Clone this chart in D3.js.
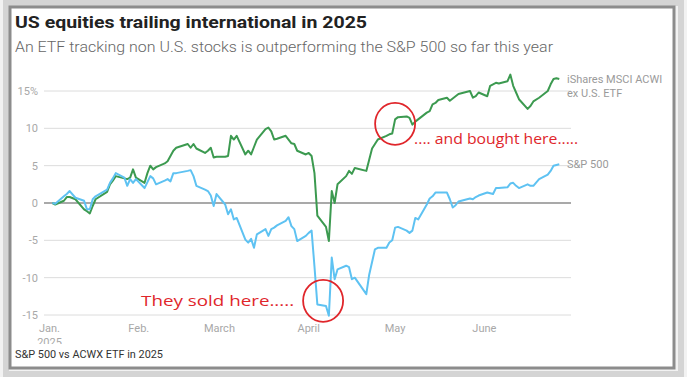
<!DOCTYPE html>
<html>
<head>
<meta charset="utf-8">
<script src="https://cdn.jsdelivr.net/npm/d3@7"></script>
<style>
  html, body { margin: 0; padding: 0; background: #fff; }
  svg { display: block; }
</style>
</head>
<body>
<div id="chart"></div>
<script>
// trading days, Jan 2 - Jun 27 2025
var dates = [
  "2025-01-02","2025-01-03","2025-01-06","2025-01-07","2025-01-08","2025-01-10","2025-01-13","2025-01-14","2025-01-15","2025-01-16","2025-01-17",
  "2025-01-21","2025-01-22","2025-01-23","2025-01-24","2025-01-27","2025-01-28","2025-01-29","2025-01-30","2025-01-31",
  "2025-02-03","2025-02-04","2025-02-05","2025-02-06","2025-02-07","2025-02-10","2025-02-11","2025-02-12","2025-02-13","2025-02-14",
  "2025-02-18","2025-02-19","2025-02-20","2025-02-21","2025-02-24","2025-02-25","2025-02-26","2025-02-27","2025-02-28",
  "2025-03-03","2025-03-04","2025-03-05","2025-03-06","2025-03-07","2025-03-10","2025-03-11","2025-03-12","2025-03-13","2025-03-14",
  "2025-03-17","2025-03-18","2025-03-19","2025-03-20","2025-03-21","2025-03-24","2025-03-25","2025-03-26","2025-03-27","2025-03-28","2025-03-31",
  "2025-04-01","2025-04-02","2025-04-03","2025-04-04","2025-04-07","2025-04-08","2025-04-09","2025-04-10","2025-04-11",
  "2025-04-14","2025-04-15","2025-04-16","2025-04-17","2025-04-21","2025-04-22","2025-04-23","2025-04-24","2025-04-25",
  "2025-04-28","2025-04-29","2025-04-30","2025-05-01","2025-05-02","2025-05-05","2025-05-06","2025-05-07","2025-05-08","2025-05-09",
  "2025-05-12","2025-05-13","2025-05-14","2025-05-15","2025-05-16","2025-05-19","2025-05-20","2025-05-21","2025-05-22","2025-05-23",
  "2025-05-27","2025-05-28","2025-05-29","2025-05-30","2025-06-02","2025-06-03","2025-06-04","2025-06-05","2025-06-06",
  "2025-06-09","2025-06-10","2025-06-11","2025-06-12","2025-06-13","2025-06-16","2025-06-17","2025-06-18","2025-06-20",
  "2025-06-23","2025-06-24","2025-06-25","2025-06-26","2025-06-27"
];

// iShares MSCI ACWI ex U.S. ETF, % change YTD
var acwx = [
  0, -0.2, 0.3, 0.8, 0.8, 0.5, -0.85, -1.1, -1.4, -0.4, 0.5,
  1.5, 2.5, 3.0, 3.6, 3.3, 3.2, 3.4, 4.5, 3.4,
  2.7, 4.0, 5.0, 4.5, 4.8, 5.3, 5.6, 6.3, 7.0, 7.4,
  7.9, 7.4, 7.9, 7.3, 6.7, 7.0, 7.4, 6.1, 6.2,
  6.2, 6.3, 9.0, 8.5, 9.0, 6.5, 7.0, 6.5, 7.5, 8.5,
  9.9, 10.1, 9.6, 8.5, 8.6, 9.0, 8.5, 8.0, 7.9, 7.0, 6.5,
  6.7, 6.3, 4.0, -1.7, -3.2, -5.1, 1.6, 0.0, 2.5,
  3.6, 4.3, 3.9, 4.7, 4.3, 5.8, 7.3, 7.9, 8.5,
  9.0, 9.2, 9.3, 11.2, 11.5, 11.6, 11.4, 10.5, 10.9, 11.2,
  12.1, 12.3, 13.2, 13.4, 13.8, 14.1, 13.7, 14.0, 14.3, 14.6,
  15.0, 14.1, 14.3, 14.8, 14.3, 15.7, 15.9, 16.1, 16.0,
  16.3, 17.2, 15.7, 14.8, 13.9, 12.6, 13.0, 13.6, 14.1,
  15.0, 15.9, 16.6, 16.7, 16.6
];

// S&P 500, % change YTD
var spx = [
  0, -0.1, 0.9, 1.2, 1.6, 0.7, 0.3, -0.85, -0.85, 0.5, 0.9,
  1.8, 2.7, 3.3, 4.0, 3.4, 2.3, 3.2, 2.7, 3.2,
  2.0, 2.8, 3.6, 3.3, 2.5, 3.0, 3.2, 2.9, 4.0, 4.0,
  4.3, 4.4, 3.6, 2.3, 1.8, 1.6, 1.0, -0.4, 1.2,
  -0.2, -1.5, -0.85, -2.2, -2.0, -4.9, -5.3, -4.8, -6.0, -4.2,
  -3.5, -4.4, -3.5, -3.3, -3.0, -2.4, -1.9, -3.1, -3.5, -5.1, -4.4,
  -4.0, -3.7, -8.5, -13.6, -13.8, -15.1, -7.3, -10.2, -8.9,
  -8.4, -8.6, -10.2, -10.0, -12.2, -9.6, -7.9, -6.2, -6.0,
  -6.0, -5.3, -5.0, -3.3, -3.2, -3.7, -4.0, -3.7, -2.0, -2.2,
  -0.2, 0.6, 0.9, 1.4, 1.4, 1.4, 0.5, -0.6, -0.3, 0.2,
  0.6, 0.5, 0.8, 1.0, 1.4, 1.3, 1.2, 2.0, 2.0,
  2.1, 2.6, 2.7, 2.3, 2.0, 2.5, 2.3, 2.3, 3.2,
  3.8, 4.3, 5.0, 5.1, 5.2
];

var yTicks = [15, 10, 5, 0, -5, -10, -15];
var monthTicks = ["2025-01-01","2025-02-01","2025-03-01","2025-04-01","2025-05-01","2025-06-01"];
var monthLabels = ["Jan.", "Feb.", "March", "April", "May", "June"];

// red circle call-outs
var callouts = [
  { date: "2025-05-01", value: 10.6, text: ".... and bought here....." },
  { date: "2025-04-06", value: -13.1, text: "They sold here....." }
];

var width = 687,
height = 377;

var parse = d3.timeParse("%Y-%m-%d");

var svg = d3.select("#chart")
.append("svg")
.attr("width", width)
.attr("height", height);

// frame
svg.append("rect")
.attr("x", 0).attr("y", 0).attr("width", width).attr("height", height)
.attr("fill", "#f2f2f2");
svg.append("rect")
.attr("x", 6).attr("y", 3).attr("width", 675).attr("height", 371)
.attr("fill", "none").attr("stroke", "#d4d4d4").attr("stroke-width", 6);
svg.append("rect")
.attr("x", 10).attr("y", 7).attr("width", 664).attr("height", 361)
.attr("fill", "#fff").attr("stroke", "#8c8c8c").attr("stroke-width", 3);

var xScale = d3.scaleTime()
.domain([parse("2025-01-01"), parse("2025-07-01")])
.range([49.5, 570.8]);

var yScale = d3.scaleLinear()
.domain([-15, 15])
.range([315, 91]);

// gridlines
svg.selectAll(".grid")
.data(yTicks)
.enter()
.append("line")
.attr("class", "grid")
.attr("x1", 44)
.attr("x2", 571)
.attr("y1", function(d) { return yScale(d) })
.attr("y2", function(d) { return yScale(d) })
.attr("stroke", function(d) { return d == 0 ? "#555" : "#dcdcdc" })
.attr("stroke-width", function(d) { return d == 0 ? 1.2 : 1 });

svg.selectAll(".ytick")
.data(yTicks)
.enter()
.append("text")
.attr("class", "ytick")
.text(function(d) { return d == 15 ? "15%" : d })
.attr("x", 38)
.attr("y", function(d) { return yScale(d) + 4 })
.attr("text-anchor", "end")
.attr("font-family", "Roboto, sans-serif")
.attr("font-size", "11px")
.attr("fill", "#a8a8a8");

svg.selectAll(".xtick")
.data(monthTicks)
.enter()
.append("text")
.attr("class", "xtick")
.text(function(d, i) { return monthLabels[i] })
.attr("x", function(d) { return xScale(parse(d)) })
.attr("y", 332)
.attr("text-anchor", "middle")
.attr("font-family", "Roboto, sans-serif")
.attr("font-size", "11px")
.attr("fill", "#a8a8a8");

// year under Jan., cut off by the footer
svg.append("clipPath").attr("id", "yearclip")
.append("rect").attr("x", 30).attr("y", 330).attr("width", 60).attr("height", 14);
svg.append("text")
.text("2025")
.attr("x", xScale(parse(monthTicks[0])))
.attr("y", 346)
.attr("text-anchor", "middle")
.attr("clip-path", "url(#yearclip)")
.attr("font-family", "Roboto, sans-serif")
.attr("font-size", "11px")
.attr("fill", "#a8a8a8");

var series = [
  { name: "acwx", values: acwx, color: "#3c9a50" },
  { name: "spx", values: spx, color: "#5ec2f2" }
];

var line = d3.line()
.x(function(d) { return xScale(d.date) })
.y(function(d) { return yScale(d.value) });

series.forEach(function(s) {
  var pts = dates.map(function(d, i) { return { date: parse(d), value: s.values[i] } });
  svg.append("path")
  .datum(pts)
  .attr("d", line)
  .attr("fill", "none")
  .attr("stroke", s.color)
  .attr("stroke-width", 2)
  .attr("stroke-linejoin", "round");
});

// series labels at right
var labelX = 567;
svg.append("text")
.attr("x", labelX).attr("y", yScale(acwx[acwx.length - 1]) + 4)
.attr("font-family", "Roboto, sans-serif").attr("font-size", "11px").attr("fill", "#9a9a9a")
.text("iShares MSCI ACWI");
svg.append("text")
.attr("x", labelX).attr("y", yScale(acwx[acwx.length - 1]) + 18)
.attr("font-family", "Roboto, sans-serif").attr("font-size", "11px").attr("fill", "#9a9a9a")
.text("ex U.S. ETF");
svg.append("text")
.attr("x", labelX).attr("y", yScale(spx[spx.length - 1]) + 4)
.attr("font-family", "Roboto, sans-serif").attr("font-size", "11px").attr("fill", "#9a9a9a")
.text("S&P 500");

// call-outs
svg.selectAll(".callout")
.data(callouts)
.enter()
.append("ellipse")
.attr("class", "callout")
.attr("cx", function(d) { return xScale(parse(d.date)) })
.attr("cy", function(d) { return yScale(d.value) })
.attr("rx", 20)
.attr("ry", 21)
.attr("fill", "none")
.attr("stroke", "#e0262b")
.attr("stroke-width", 1.8);

svg.append("text")
.text(callouts[0].text)
.attr("x", xScale(parse(callouts[0].date)) + 19)
.attr("y", yScale(callouts[0].value) + 20)
.attr("textLength", 164).attr("lengthAdjust", "spacingAndGlyphs")
.attr("font-family", "'Open Sans', sans-serif")
.attr("font-size", "15px")
.attr("font-weight", 500)
.attr("fill", "#e0262b");

svg.append("text")
.text(callouts[1].text)
.attr("x", xScale(parse(callouts[1].date)) - 29)
.attr("y", yScale(callouts[1].value) + 5)
.attr("text-anchor", "end")
.attr("textLength", 153).attr("lengthAdjust", "spacingAndGlyphs")
.attr("font-family", "'Open Sans', sans-serif")
.attr("font-size", "15px")
.attr("font-weight", 500)
.attr("fill", "#e0262b");

// titles
svg.append("text")
.text("US equities trailing international in 2025")
.attr("x", 15).attr("y", 28)
.attr("textLength", 352).attr("lengthAdjust", "spacingAndGlyphs")
.attr("font-family", "Roboto, sans-serif")
.attr("font-size", "17px")
.attr("font-weight", "bold")
.attr("fill", "#222");

svg.append("text")
.text("An ETF tracking non U.S. stocks is outperforming the S&P 500 so far this year")
.attr("x", 15).attr("y", 52)
.attr("textLength", 538).attr("lengthAdjust", "spacingAndGlyphs")
.attr("font-family", "Roboto, sans-serif")
.attr("font-size", "14px")
.attr("font-weight", 300)
.attr("fill", "#666");

svg.append("text")
.text("S&P 500 vs ACWX ETF in 2025")
.attr("x", 15).attr("y", 358)
.attr("textLength", 148).attr("lengthAdjust", "spacingAndGlyphs")
.attr("font-family", "Roboto, sans-serif")
.attr("font-size", "10.5px")
.attr("font-weight", 400)
.attr("fill", "#333");
</script>
</body>
</html>
